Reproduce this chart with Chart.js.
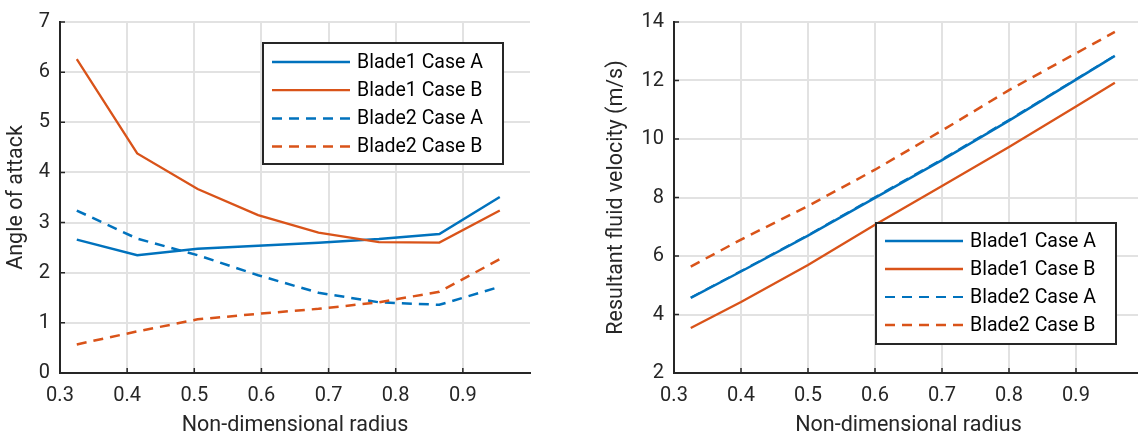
<!DOCTYPE html>
<html>
<head>
<meta charset="utf-8">
<script src="https://cdn.jsdelivr.net/npm/chart.js@4/dist/chart.umd.min.js"></script>
<style>
  html, body { margin: 0; padding: 0; background: #fff; overflow: hidden; }
  body { width: 1138px; height: 435px; position: relative; }
  .plot { position: absolute; top: 0; height: 439px; }
  #left-wrap { left: 0; width: 560px; }
  #right-wrap { left: 570px; width: 580px; }
</style>
</head>
<body>
<div class="plot" id="left-wrap"><canvas id="aoa-chart"></canvas></div>
<div class="plot" id="right-wrap"><canvas id="vel-chart"></canvas></div>
<script>
// --- DATA ---
const seriesLabels = ['Blade1 Case A', 'Blade1 Case B', 'Blade2 Case A', 'Blade2 Case B'];
const xTickValues = [0.3, 0.4, 0.5, 0.6, 0.7, 0.8, 0.9];
const aoaTickValues = [0, 1, 2, 3, 4, 5, 6, 7];
const velTickValues = [2, 4, 6, 8, 10, 12, 14];

// angle of attack vs radius
const aoaRadius = [0.325, 0.415, 0.505, 0.595, 0.685, 0.775, 0.865, 0.955];
const aoaBlade1A = [2.66, 2.35, 2.48, 2.54, 2.60, 2.67, 2.77, 3.51];
const aoaBlade1B = [6.26, 4.38, 3.67, 3.15, 2.80, 2.61, 2.60, 3.24];
const aoaBlade2A = [3.24, 2.68, 2.35, 1.95, 1.60, 1.41, 1.36, 1.72];
const aoaBlade2B = [0.57, 0.83, 1.07, 1.18, 1.28, 1.41, 1.62, 2.27];

// resultant velocity vs radius
const velRadius = [0.325, 0.4, 0.5, 0.6, 0.7, 0.8, 0.9, 0.958];
const velBlade1A = [4.57, 5.47, 6.70, 7.99, 9.28, 10.63, 12.03, 12.84];
const velBlade1B = [3.54, 4.43, 5.69, 7.07, 8.39, 9.73, 11.11, 11.92];
const velBlade2A = [4.58, 5.49, 6.72, 8.02, 9.31, 10.66, 12.05, 12.85];
const velBlade2B = [5.64, 6.56, 7.71, 8.95, 10.29, 11.67, 12.93, 13.66];

// --- STYLE ---
const BLUE = '#0072BD';
const ORANGE = '#D95319';
const AXIS = '#262626';
const GRID = '#e2e2e2';
const FONT = 'Roboto, "Noto Sans", sans-serif';
const TICK_FONT = 20;
const TITLE_FONT = 21.5;
const LEGEND_FONT = 19.5;

function toPoints(xs, ys) {
    return xs.map((x, i) => ({ x: x, y: ys[i] }));
}

function makeDatasets(xs, b1a, b1b, b2a, b2b, dashWidth) {
    return [
        { label: seriesLabels[0], data: toPoints(xs, b1a), borderColor: BLUE, borderWidth: 2.5, order: 3 },
        { label: seriesLabels[1], data: toPoints(xs, b1b), borderColor: ORANGE, borderWidth: 2.3, order: 2 },
        { label: seriesLabels[2], data: toPoints(xs, b2a), borderColor: BLUE, borderWidth: dashWidth, borderDash: [10, 7], order: 1 },
        { label: seriesLabels[3], data: toPoints(xs, b2b), borderColor: ORANGE, borderWidth: 2.5, borderDash: [10, 7], order: 0 }
    ];
}

// Inward tick marks, MATLAB style
const innerTicks = {
    id: 'innerTicks',
    afterDatasetsDraw(chart) {
        const ctx = chart.ctx;
        const { left, bottom } = chart.chartArea;
        const xs = chart.scales.x, ys = chart.scales.y;
        ctx.save();
        ctx.strokeStyle = AXIS;
        ctx.lineWidth = 1.5;
        ctx.beginPath();
        xs.ticks.forEach(t => {
            const px = xs.getPixelForValue(t.value);
            ctx.moveTo(px, bottom);
            ctx.lineTo(px, bottom - 5);
        });
        ys.ticks.forEach(t => {
            const py = ys.getPixelForValue(t.value);
            ctx.moveTo(left, py);
            ctx.lineTo(left + 5, py);
        });
        ctx.stroke();
        ctx.restore();
    }
};

// Boxed legend drawn inside the axes
const boxLegend = {
    id: 'boxLegend',
    afterDraw(chart, args, opts) {
        const ctx = chart.ctx;
        ctx.save();
        ctx.fillStyle = '#fff';
        ctx.fillRect(opts.x, opts.y, opts.w, opts.h);
        ctx.strokeStyle = AXIS;
        ctx.lineWidth = 2;
        ctx.strokeRect(opts.x, opts.y, opts.w, opts.h);
        ctx.font = LEGEND_FONT + 'px ' + FONT;
        ctx.textBaseline = 'middle';
        chart.data.datasets.forEach((ds, i) => {
            const cy = opts.y + opts.firstRow + i * opts.rowGap;
            ctx.strokeStyle = ds.borderColor;
            ctx.lineWidth = ds.borderWidth;
            ctx.setLineDash(ds.borderDash || []);
            ctx.beginPath();
            ctx.moveTo(opts.x + 9, cy);
            ctx.lineTo(opts.x + 87, cy);
            ctx.stroke();
            ctx.setLineDash([]);
            ctx.fillStyle = '#000';
            ctx.fillText(ds.label, opts.x + 94, cy + 1);
        });
        ctx.restore();
    }
};

function buildChart(canvas, datasets, cfg) {
    return new Chart(canvas, {
        type: 'line',
        data: { datasets: datasets },
        options: {
            responsive: true,
            maintainAspectRatio: false,
            animation: false,
            elements: { point: { radius: 0 }, line: { tension: 0 } },
            layout: { padding: { top: 17, right: cfg.padRight, left: 0, bottom: 0 } },
            plugins: {
                legend: { display: false },
                tooltip: { enabled: false },
                boxLegend: cfg.legend
            },
            scales: {
                x: {
                    type: 'linear',
                    min: 0.3,
                    max: 1.0,
                    afterBuildTicks: s => { s.ticks = xTickValues.map(v => ({ value: v })); },
                    afterFit: s => { s.height = 66; },
                    grid: { color: GRID, lineWidth: 2, drawTicks: false },
                    border: { display: true, color: AXIS, width: 2 },
                    ticks: {
                        color: AXIS,
                        font: { family: FONT, size: TICK_FONT },
                        padding: 11,
                        maxRotation: 0,
                        callback: v => v.toFixed(1)
                    },
                    title: {
                        display: true,
                        text: 'Non-dimensional radius',
                        color: AXIS,
                        font: { family: FONT, size: TITLE_FONT },
                        padding: { top: 0, bottom: 0 }
                    }
                },
                y: {
                    type: 'linear',
                    min: cfg.yMin,
                    max: cfg.yMax,
                    afterBuildTicks: s => { s.ticks = cfg.yTicks.map(v => ({ value: v })); },
                    afterFit: s => { s.width = cfg.yWidth; },
                    grid: { color: GRID, lineWidth: 2, drawTicks: false },
                    border: { display: true, color: AXIS, width: 2 },
                    ticks: {
                        color: AXIS,
                        font: { family: FONT, size: TICK_FONT },
                        padding: 10
                    },
                    title: {
                        display: true,
                        text: cfg.yTitle,
                        color: AXIS,
                        font: { family: FONT, size: TITLE_FONT },
                        padding: { top: cfg.yTitlePad, bottom: 0 }
                    }
                }
            }
        },
        plugins: [innerTicks, boxLegend]
    });
}

// --- START ---
buildChart(document.getElementById('aoa-chart'),
    makeDatasets(aoaRadius, aoaBlade1A, aoaBlade1B, aoaBlade2A, aoaBlade2B, 2.5),
    {
        yMin: 0, yMax: 7, yTicks: aoaTickValues, yWidth: 60, padRight: 30,
        yTitle: 'Angle of attack', yTitlePad: 4,
        legend: { x: 263, y: 43, w: 240, h: 121, firstRow: 19, rowGap: 28.2 }
    });

buildChart(document.getElementById('vel-chart'),
    makeDatasets(velRadius, velBlade1A, velBlade1B, velBlade2A, velBlade2B, 1.8),
    {
        yMin: 2, yMax: 14, yTicks: velTickValues, yWidth: 104, padRight: 7,
        yTitle: 'Resultant fluid velocity (m/s)', yTitlePad: 34,
        legend: { x: 306, y: 223, w: 240, h: 121, firstRow: 18, rowGap: 28 }
    });
</script>
</body>
</html>
